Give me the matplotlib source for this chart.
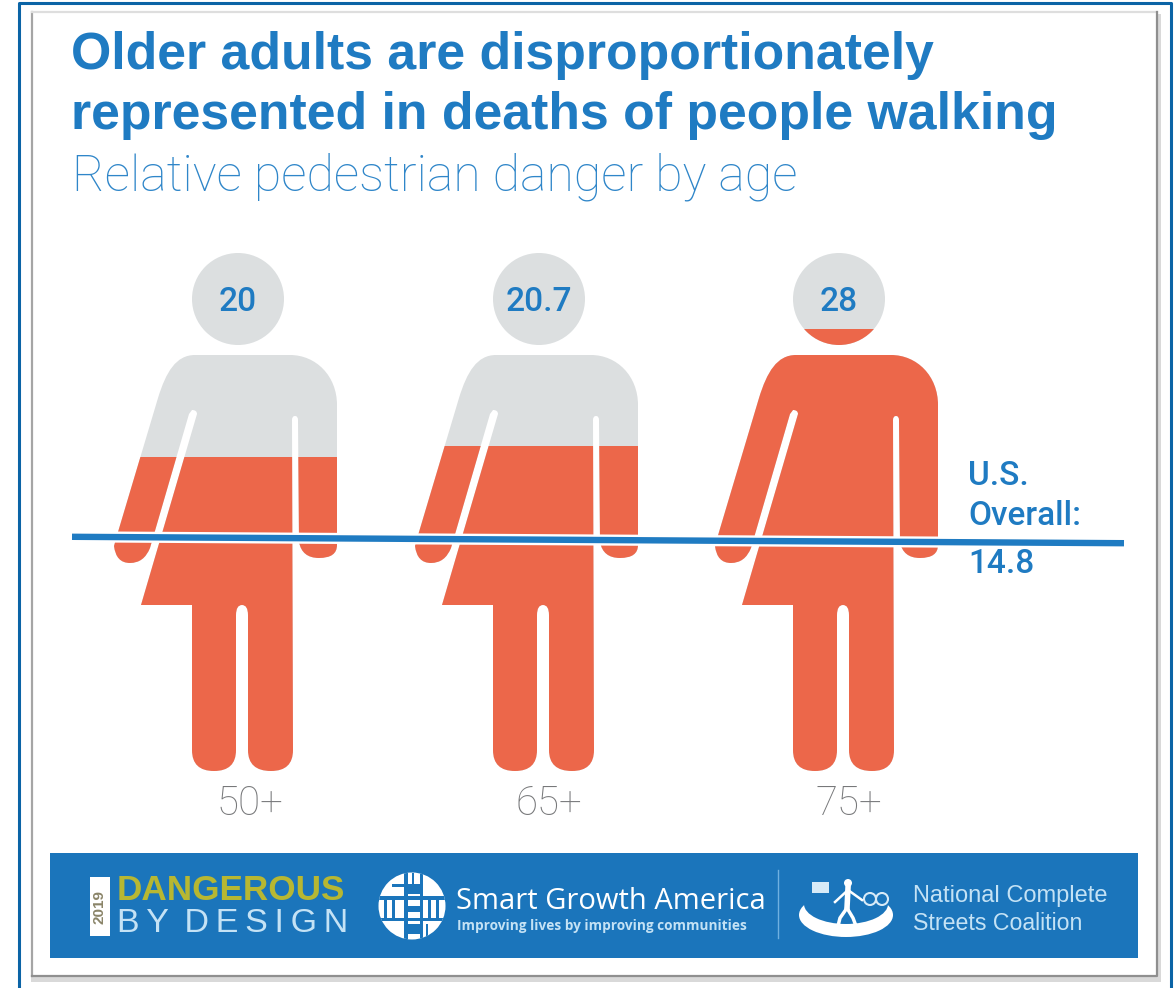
import matplotlib
matplotlib.use('Agg')
import matplotlib.pyplot as plt
from matplotlib.patches import Circle, PathPatch, Rectangle, Ellipse
from matplotlib.path import Path
from matplotlib.transforms import Affine2D

ages = ['50+', '65+', '75+']
danger = [20, 20.7, 28]
danger_labels = ['20', '20.7', '28']
overall = 14.8
title_lines = ['Older adults are disproportionately', 'represented in deaths of people walking']
subtitle = 'Relative pedestrian danger by age'

BLUE = '#1f7bc2'
BANNER = '#1b75bb'
ORANGE = '#ec674a'
GRAY = '#dcdfe0'
SANS = ['Liberation Sans', 'DejaVu Sans']
LIGHT = ['Roboto', 'DejaVu Sans']

W, H = 1175, 988
shift_x = [0, 301, 601]
label_x = [250, 549, 849]

M, L, C3, C4 = Path.MOVETO, Path.LINETO, Path.CURVE3, Path.CURVE4


def person_path():
    # outline of the left figure in image pixels, the others are shifted copies
    v = [(195, 355), (290, 355), (316, 355), (337, 376), (337, 405), (337, 545),
         (337, 558), (319, 558), (302, 558), (299, 542), (298, 420),
         (298, 416), (295, 416), (292, 416), (292, 420), (293, 750),
         (293, 771), (271, 771), (248, 771), (248, 750),
         (248, 615), (248, 605), (242, 605), (236, 605), (236, 615),
         (236, 750), (236, 771), (214, 771), (192, 771), (192, 750),
         (192, 605), (141, 605), (197, 414), (197, 410), (192, 410), (189, 414),
         (150, 548), (144, 563), (130, 563), (116, 563), (114, 546), (118, 532),
         (158, 398), (166, 372), (176, 355), (195, 355)]
    c = [M, L, C4, C4, C4, L,
         C3, C3, C3, C3, L,
         C3, C3, C3, C3, L,
         C3, C3, C3, C3,
         L, C3, C3, C3, C3,
         L, C3, C3, C3, C3,
         L, L, L, C3, C3, L,
         L, C3, C3, C3, C3, L,
         L, C4, C4, C4]
    head = Path.circle((238, 299), 46)
    return Path.make_compound_path(head, Path(v, c))


fig = plt.figure(figsize=(W / 100, H / 100), dpi=100)
bg = fig.add_axes([0, 0, 1, 1], zorder=1)
bg.set_xlim(0, W)
bg.set_ylim(H, 0)
bg.axis('off')

# value axis over the same area, 16 px per unit with 14.8 at y=540
ax = fig.add_axes([0, 0, 1, 1], zorder=2)
ax.set_xlim(0, W)
ax.set_ylim(overall - (H - 540) / 16, overall + 540 / 16)
ax.axis('off')
ax.patch.set_alpha(0)

# frame and card
bg.plot([19, 19, 1171, 1171], [H, 3, 3, H], color='#0b64a6', lw=2.2)
bg.add_patch(Rectangle((31, 14), 1130, 968, fc='#d9d9d9', ec='none'))
bg.add_patch(Rectangle((31, 12), 1126, 964, fc='white', ec='none'))
bg.plot([32, 32], [12, 976], color='#a5a5a5', lw=1.6)
bg.plot([32, 1157], [12, 12], color='#dedede', lw=1.6)
bg.plot([32, 1157, 1157], [976, 976, 12], color='#8f8f8f', lw=1.6)

for line, y in zip(title_lines, [55, 116]):
    bg.text(71, y, line, color=BLUE, fontsize=37.3, fontweight='bold', family=SANS, va='center')
bg.text(72, 177, subtitle, color='#2f86c9', fontsize=36, family=LIGHT,
        fontweight='light', va='center')

person = person_path()
for i, val in enumerate(danger):
    tr = Affine2D().translate(shift_x[i], 0) + bg.transData
    body = PathPatch(person, fc=GRAY, ec='none', transform=tr)
    ax.add_patch(body)
    bars = ax.bar(238 + shift_x[i] + 15, val, width=280, color=ORANGE)
    bars[0].set_clip_path(body)
    ax.text(238 + shift_x[i], 302, danger_labels[i], color=BLUE, fontsize=24,
            family=LIGHT, fontweight='medium', ha='center', va='center', transform=bg.transData)
    bg.text(label_x[i], 804, ages[i], color='#77787a', fontsize=29, family=LIGHT,
            fontweight='light', ha='center', va='center')

# overall line runs very slightly downhill in the source
line_x = [72, 1124]
line_y = [overall + 0.2, overall - 0.2]
ax.plot([72, 940], [line_y[0], overall - 0.13], color='white', lw=8, solid_capstyle='butt')
ax.plot(line_x, line_y, color=BLUE, lw=4.6, solid_capstyle='butt')

for txt, y in zip(['U.S.', 'Overall:', '14.8'], [476, 516, 564]):
    ax.text(968, y, txt, color=BLUE, fontsize=24, family=LIGHT, fontweight='medium',
            va='center', transform=bg.transData)

# banner
bg.add_patch(Rectangle((50, 853), 1088, 105, fc=BANNER, ec='none'))
bg.add_patch(Rectangle((90, 877), 20, 59, fc='white', ec='none'))
bg.text(100, 906.5, '2019', color='#8a8468', fontsize=11, fontweight='bold', family=SANS,
        rotation=90, ha='center', va='center')
bg.text(117, 890, 'DANGEROUS', color='#b7b732', fontsize=25.3, fontweight='bold', family=SANS, va='center')
bg.text(117, 923, 'B\u2009Y \u2009D\u2009E\u2009S\u2009I\u2009G\u2009N', color='#c4e2f5', fontsize=24.5,
        family=SANS, va='center')

# smart growth logo
bg.add_patch(Circle((412, 906), 33.5, fc='white', ec='none'))
clip = Circle((412, 906), 33.5, transform=bg.transData)
for gx, gy, gw, gh in [(378, 896, 68, 4), (378, 918, 68, 3), (404, 873, 4, 67), (420, 873, 3, 67),
                       (392, 884, 12, 3), (408, 884, 12, 10), (384, 900, 3, 18), (392, 900, 3, 18),
                       (428, 900, 3, 18), (436, 900, 3, 18), (408, 906, 12, 6), (408, 924, 12, 10),
                       (412, 873, 2, 14), (426, 924, 2, 12)]:
    r = bg.add_patch(Rectangle((gx, gy), gw, gh, fc=BANNER, ec='none'))
    r.set_clip_path(clip)
bg.text(456, 901, 'Smart Growth America', color='white', fontsize=21, family=['Open Sans', 'DejaVu Sans'],
        va='center')
bg.text(457, 926, 'Improving lives by improving communities', color='#c4e2f5', fontsize=9.85,
        family=['Open Sans', 'DejaVu Sans'], fontweight='bold', va='center')
bg.plot([778, 778], [870, 938], color='#6fb0e0', lw=1)

# streets logo
bg.add_patch(Ellipse((846, 915), 94, 44, fc='white', ec='none'))
bg.add_patch(Ellipse((846, 904), 84, 40, fc=BANNER, ec='none'))
bg.add_patch(Rectangle((812, 882), 17, 11, fc='#d7eaf7', ec='none'))
bg.add_patch(Circle((848, 883), 4, fc='white', ec='none'))
bg.plot([848, 847], [888, 908], color='white', lw=4)
bg.plot([847, 840, 838], [908, 918, 926], color='white', lw=2.5)
bg.plot([847, 853, 856], [908, 918, 926], color='white', lw=2.5)
bg.plot([835, 848, 862], [902, 890, 900], color='white', lw=1.8)
bg.add_patch(Circle((870, 899), 6, fc='none', ec='#d7eaf7', lw=1.5))
bg.add_patch(Circle((882, 899), 6, fc='none', ec='#d7eaf7', lw=1.5))
bg.text(913, 896, 'National Complete', color='#c4e2f5', fontsize=17, family=SANS, va='center')
bg.text(913, 923, 'Streets Coalition', color='#c4e2f5', fontsize=16.7, family=SANS, va='center')

fig.savefig('out.png', dpi=100)
